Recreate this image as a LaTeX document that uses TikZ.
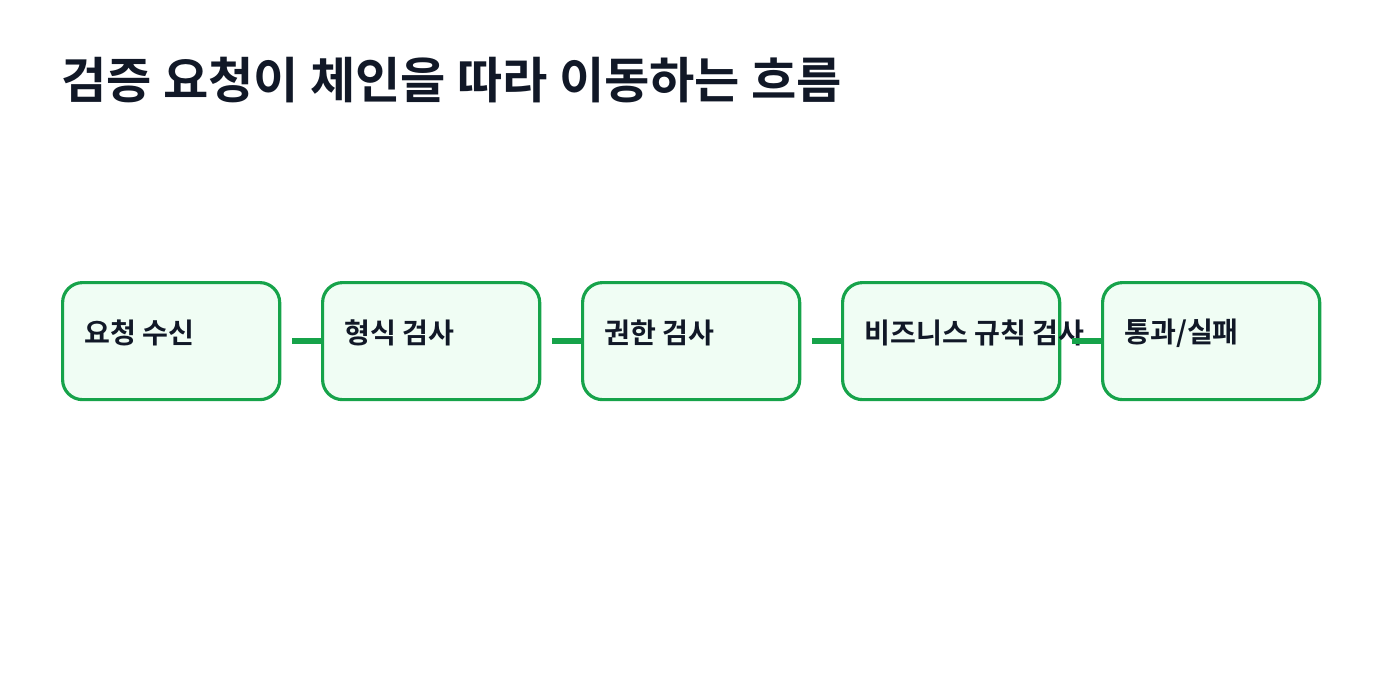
\documentclass[tikz,border=0pt]{standalone}
\usepackage{fontspec}
\newfontfamily\cjk{Noto Sans CJK KR}[BoldFont={* Bold}]
\definecolor{ink}{HTML}{111827}
\definecolor{grn}{HTML}{16A34A}
\definecolor{pale}{HTML}{F0FDF4}
\begin{document}
\begin{tikzpicture}[x=0.01cm,y=-0.01cm,
  stepbox/.style={draw=grn,line width=0.9pt,fill=pale,rounded corners=0.2cm,minimum width=2.17cm,minimum height=1.17cm,anchor=north west},
  lbl/.style={anchor=west,text=ink,font=\cjk\bfseries\fontsize{8pt}{10pt}\selectfont},
  link/.style={draw=grn,line width=1.7pt,shorten <=0.11cm}]
\useasboundingbox (0,0) rectangle (1400,700);
\node[anchor=west,text=ink,font=\cjk\bfseries\fontsize{14pt}{16pt}\selectfont] (title) at (49,80) {검증 요청이 체인을 따라 이동하는 흐름};
\foreach \i in {1,...,5}{
  \node[stepbox] (b\i) at ({61+260*(\i-1)},281) {};
}
\node[lbl] (t1) at (72,333) {요청 수신};
\node[lbl] (t2) at (332,333) {형식 검사};
\node[lbl] (t3) at (592,333) {권한 검사};
\node[lbl] (t4) at (852,333) {비즈니스 규칙 검사};
\node[lbl] (t5) at (1112,333) {통과/실패};
\foreach \a/\b in {1/2,2/3,3/4,4/5}{
  \draw[link] (b\a.east|-0,341) -- (b\b.west|-0,341);
}
\end{tikzpicture}
\end{document}
